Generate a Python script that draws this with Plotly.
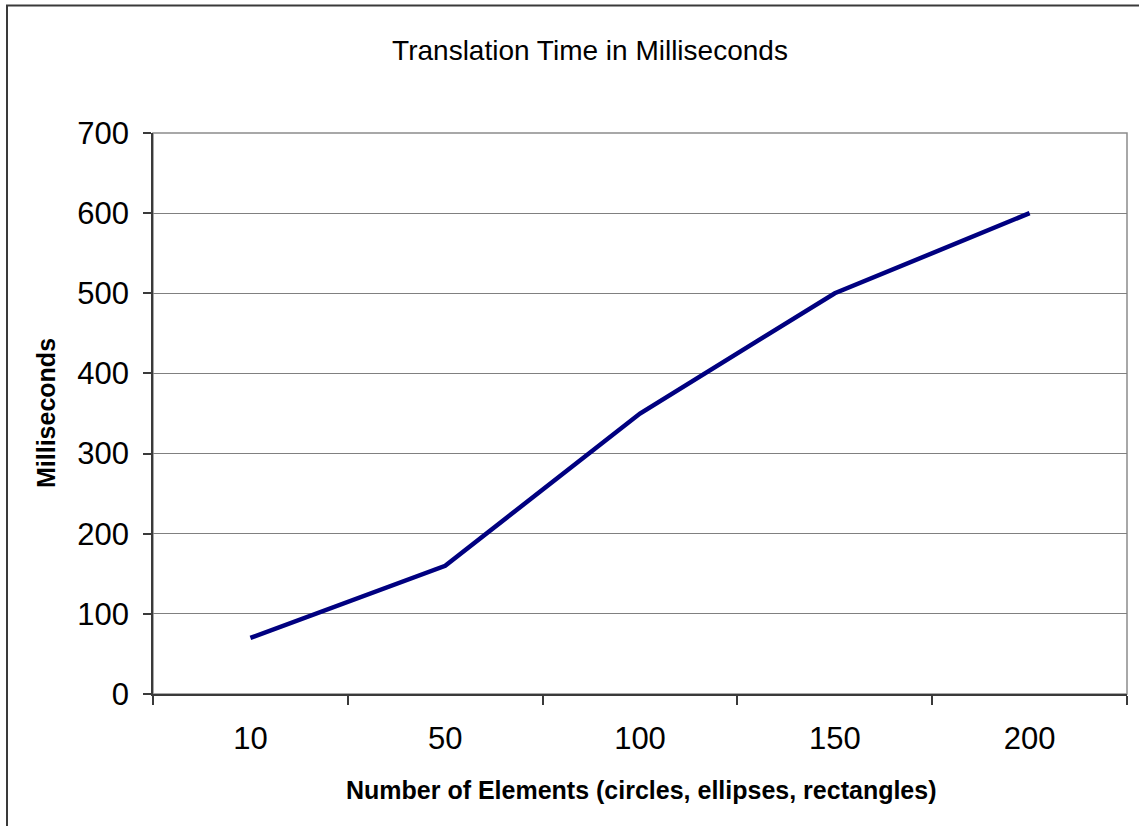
import plotly.graph_objects as go

categories = ["10", "50", "100", "150", "200"]
milliseconds = [70, 160, 350, 500, 600]
y_ticks = [0, 100, 200, 300, 400, 500, 600, 700]

W, H = 1139, 826
L, R, T, B = 153, 12, 133, 132
pw, ph = W - L - R, H - T - B

def px_x(x):
    return (x - L) / pw

def px_y(y):
    return (H - B - y) / ph

fig = go.Figure()
fig.add_trace(go.Scatter(
    x=categories, y=milliseconds, mode="lines",
    line=dict(color="#000080", width=4.5),
    hoverinfo="x+y", showlegend=False,
))

font_family = "Liberation Sans, Arial, sans-serif"

fig.update_layout(
    width=W, height=H,
    margin=dict(l=L, r=R, t=T, b=B, autoexpand=False),
    paper_bgcolor="white", plot_bgcolor="white",
    font=dict(family=font_family, color="black"),
    title=dict(
        text="Translation Time in Milliseconds",
        x=590 / W, xanchor="center",
        y=1 - 50 / H, yanchor="middle",
        font=dict(size=28, family=font_family, color="black"),
    ),
    xaxis=dict(
        type="category", range=[-0.5, 4.5],
        showgrid=False, zeroline=False,
        showline=True, linecolor="#3a3a3a", linewidth=1.5,
        ticks="outside", tickson="boundaries", ticklen=9,
        tickcolor="#3a3a3a", tickwidth=1.5,
        tickfont=dict(size=31, family=font_family, color="black"),
        ticklabelstandoff=16,
    ),
    yaxis=dict(
        range=[0, 700], tickvals=y_ticks,
        showgrid=True, gridcolor="#808080", gridwidth=1,
        zeroline=False,
        showline=True, linecolor="#3a3a3a", linewidth=1.5,
        ticks="outside", ticklen=8, tickcolor="#3a3a3a", tickwidth=1.5,
        tickfont=dict(size=31, family=font_family, color="black"),
        ticklabelstandoff=8,
    ),
    shapes=[
        # plot area border (top/right gray)
        dict(type="rect", xref="paper", yref="paper", x0=0, x1=1, y0=0, y1=1,
             line=dict(color="#8c8c8c", width=1.5), layer="below"),
        # outer chart frame
        dict(type="rect", xref="paper", yref="paper",
             x0=px_x(7), x1=px_x(1150), y0=px_y(840), y1=px_y(5.5),
             line=dict(color="#3a3a3a", width=2), layer="above"),
    ],
    annotations=[
        dict(text="<b>Number of Elements (circles, ellipses, rectangles)</b>",
             xref="paper", yref="paper", x=px_x(641), y=px_y(790),
             xanchor="center", yanchor="middle", showarrow=False,
             font=dict(size=25, family=font_family, color="black")),
        dict(text="<b>Milliseconds</b>",
             xref="paper", yref="paper", x=px_x(46), y=px_y(413),
             xanchor="center", yanchor="middle", showarrow=False, textangle=-90,
             font=dict(size=25, family=font_family, color="black")),
    ],
)

fig.write_html("out.html", config={"displayModeBar": False},
               post_script="document.body.style.margin='0';")
